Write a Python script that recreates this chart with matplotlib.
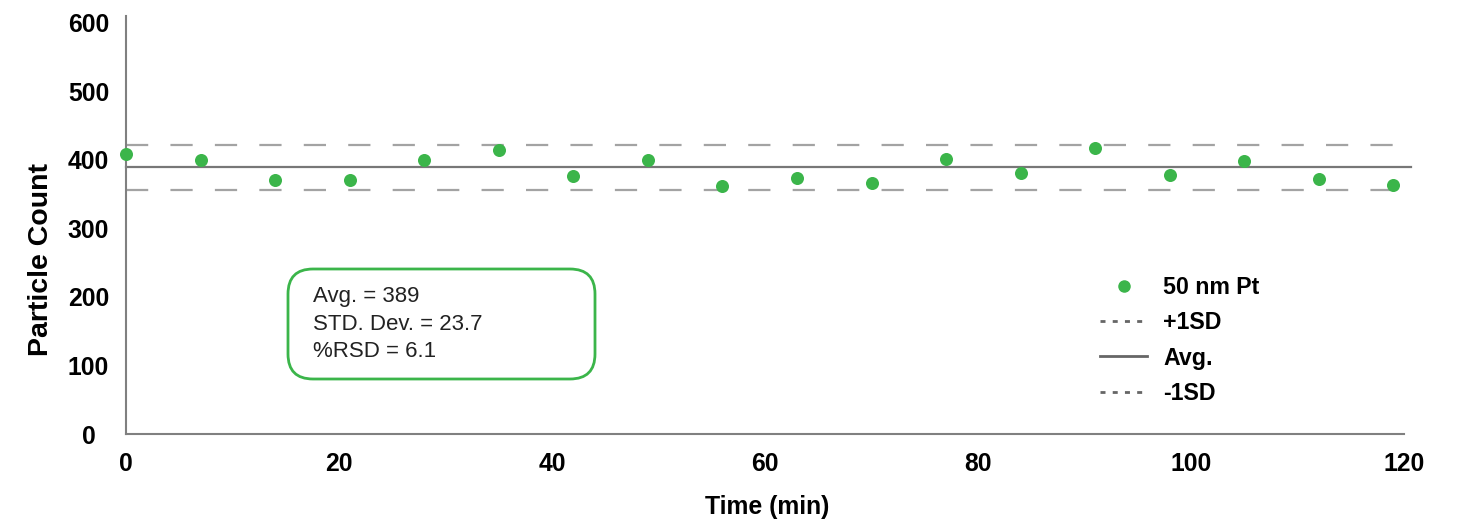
import matplotlib.pyplot as plt
from matplotlib.lines import Line2D
from matplotlib.patches import FancyBboxPatch

plt.rcParams['font.family'] = ['Liberation Sans', 'DejaVu Sans']

# data
time_min = [0, 7, 14, 21, 28, 35, 42, 49, 56, 63, 70, 77, 84, 91, 98, 105, 112, 119]
counts = [408, 400, 371, 371, 400, 414, 377, 400, 362, 373, 366, 401, 381, 417, 378, 399, 372, 363]
avg_line = 389
plus_sd_line = 422
minus_sd_line = 356
stats_text = ["Avg. = 389", "STD. Dev. = 23.7", "%RSD = 6.1"]
x_ticks = [0, 20, 40, 60, 80, 100, 120]
y_ticks = [0, 100, 200, 300, 400, 500, 600]

green = '#3bb54a'
dash_grey = '#a3a3a3'
avg_grey = '#777777'

fig = plt.figure(figsize=(14.58, 5.2), dpi=100)
ax = fig.add_axes([126 / 1458, 1 - 434 / 520, (1404 - 126) / 1458, (434 - 16) / 520])

# reference lines (run a little past the axis like the original)
ax.plot([0, 119.5], [plus_sd_line] * 2, color=dash_grey, lw=1.6, ls=(0, (10, 10)), clip_on=False)
ax.plot([0, 119.5], [minus_sd_line] * 2, color=dash_grey, lw=1.6, ls=(0, (10, 10)), clip_on=False)
ax.plot([0, 120.7], [avg_line] * 2, color=avg_grey, lw=1.6, clip_on=False)

ax.scatter(time_min, counts, s=88, color=green, zorder=3, clip_on=False, linewidths=0)

ax.set_xlim(0, 120)
ax.set_ylim(0, 610)
ax.set_xticks(x_ticks)
ax.set_yticks(y_ticks)
ax.tick_params(length=0, labelsize=17.8)
ax.tick_params(axis='x', pad=13)
ax.tick_params(axis='y', pad=27)
for lab in ax.get_xticklabels() + ax.get_yticklabels():
    lab.set_fontweight('bold')
for lab in ax.get_yticklabels():
    lab.set_horizontalalignment('center')

for side in ['top', 'right']:
    ax.spines[side].set_visible(False)
for side in ['left', 'bottom']:
    ax.spines[side].set_color('#808080')
    ax.spines[side].set_linewidth(1.5)

fig.text(41 / 1458, 1 - 259 / 520, 'Particle Count', rotation=90, ha='center', va='center',
         fontsize=20.5, fontweight='bold')
fig.text(767 / 1458, 1 - 507 / 520, 'Time (min)', ha='center', va='center',
         fontsize=17.8, fontweight='bold')

# stats box
box = FancyBboxPatch((2.88, 1.41), 3.07, 1.10, boxstyle='round,pad=0,rounding_size=0.25',
                     transform=fig.dpi_scale_trans, facecolor='white', edgecolor=green,
                     linewidth=2, zorder=5)
fig.patches.append(box)
fig.text(313 / 1458, 1 - 324 / 520, '\n'.join(stats_text), ha='left', va='center',
         fontsize=16, linespacing=1.4, color='#222222', zorder=6)

handles = [
    Line2D([], [], marker='o', ls='none', color=green, markersize=8),
    Line2D([], [], color='#666666', lw=2, ls=(0, (1.8, 2.6))),
    Line2D([], [], color='#666666', lw=2),
    Line2D([], [], color='#666666', lw=2, ls=(0, (1.8, 2.6))),
]
labels = ['50 nm Pt', '+1SD', 'Avg.', '-1SD']
leg = fig.legend(handles, labels, loc='upper left', bbox_to_anchor=(1100 / 1458, 1 - 276 / 520),
                 frameon=False, borderpad=0, borderaxespad=0, handlelength=2.03,
                 handletextpad=0.69, labelspacing=0.53, prop={'size': 16.7, 'weight': 'bold'})

fig.savefig('out.png', dpi=100)
